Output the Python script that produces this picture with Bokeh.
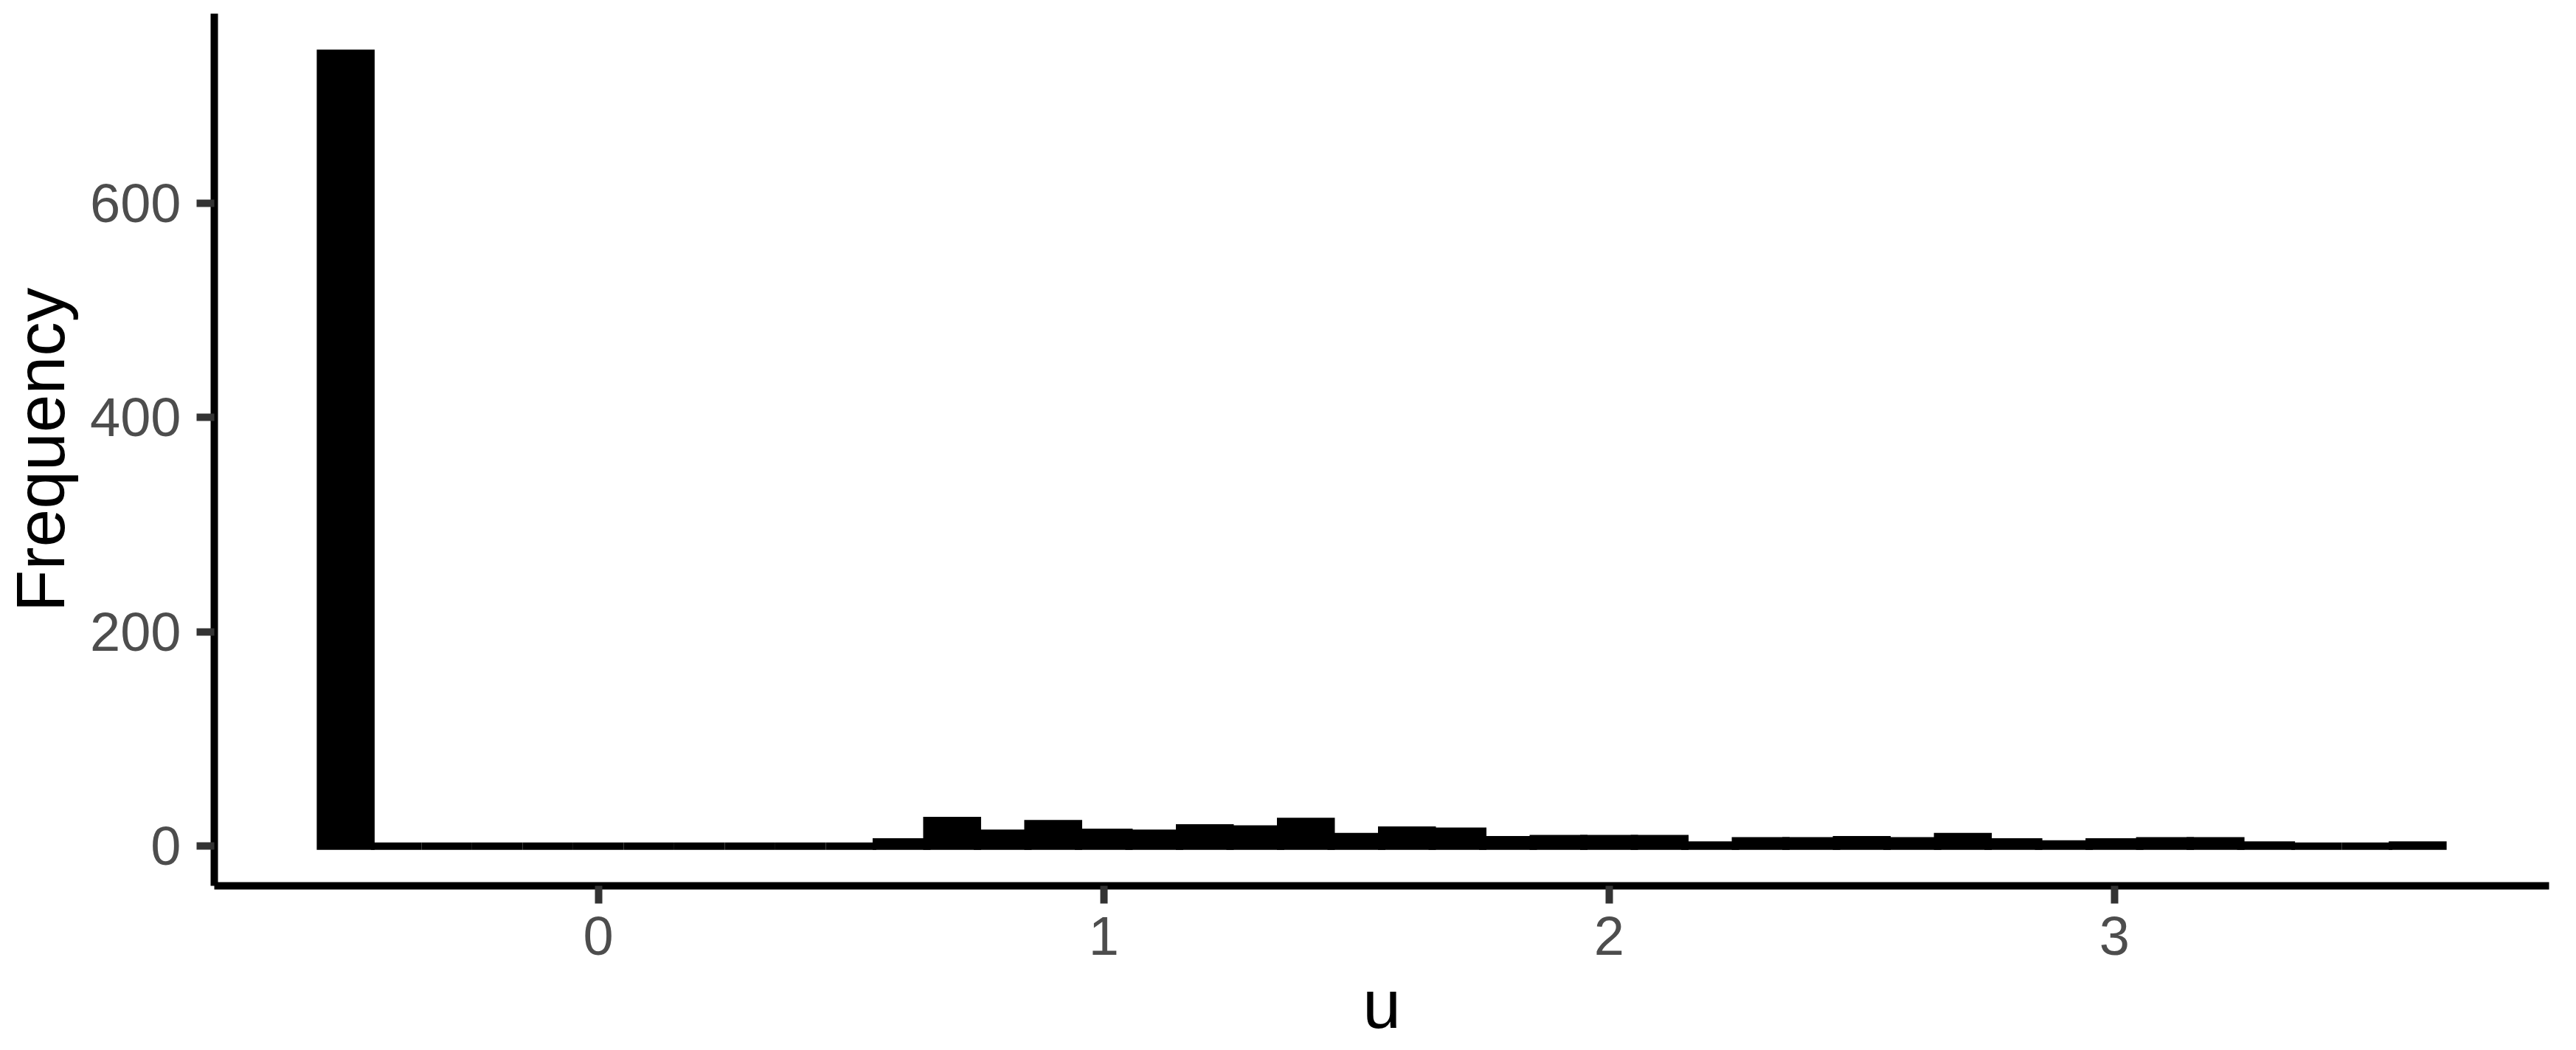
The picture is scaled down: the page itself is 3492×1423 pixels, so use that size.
from bokeh.plotting import figure
from bokeh.models import ColumnDataSource, Range1d, FixedTicker
from bokeh.embed import file_html
from bokeh.resources import INLINE

# ---- data ----
bin_centers = [-0.5, -0.4, -0.3, -0.2, -0.1, 0.0, 0.1, 0.2, 0.3, 0.4, 0.5,
               0.6, 0.7, 0.8, 0.9, 1.0, 1.1, 1.2, 1.3, 1.4, 1.5,
               1.6, 1.7, 1.8, 1.9, 2.0, 2.1, 2.2, 2.3, 2.4, 2.5,
               2.6, 2.7, 2.8, 2.9, 3.0, 3.1, 3.2, 3.3, 3.4, 3.5, 3.6]
counts = [740, 0, 0, 0, 0, 0, 0, 0, 0, 0, 0,
          4, 24, 12, 21, 13, 12, 17, 16, 23, 9,
          15, 14, 6, 7, 7, 7, 1, 5, 5, 6,
          5, 9, 4, 2, 4, 5, 5, 1, 0, 0, 1]
bin_width = 0.1
x_ticks = [0, 1, 2, 3]
y_ticks = [0, 200, 400, 600]
x_title = "u"
y_title = "Frequency"

src = ColumnDataSource(dict(
    left=[c - bin_width / 2 for c in bin_centers],
    right=[c + bin_width / 2 for c in bin_centers],
    top=counts,
    bottom=[0] * len(counts),
))

# ggplot-style 5% expansion of the data range
xmin = min(src.data["left"]); xmax = max(src.data["right"])
ymin = 0; ymax = max(counts)
xpad = 0.05 * (xmax - xmin); ypad = 0.05 * (ymax - ymin)

W, H = 3476, 1415
p = figure(width=W, height=H, output_backend="svg", toolbar_location=None,
           x_range=Range1d(xmin - xpad, xmax + xpad),
           y_range=Range1d(ymin - ypad, ymax + ypad),
           min_border_left=285, min_border_right=21,
           min_border_top=18, min_border_bottom=215)

p.quad(left="left", right="right", top="top", bottom="bottom", source=src,
       fill_color="black", line_color="black", line_width=10, line_join="miter")

p.outline_line_color = None
p.background_fill_color = "white"
p.border_fill_color = "white"
p.xgrid.visible = False
p.ygrid.visible = False

for ax, ticks in ((p.xaxis, x_ticks), (p.yaxis, y_ticks)):
    ax.ticker = FixedTicker(ticks=ticks)
    ax.minor_tick_line_color = None
    ax.axis_line_color = "black"
    ax.axis_line_width = 10
    ax.major_tick_line_color = "#333333"
    ax.major_tick_line_width = 10
    ax.major_tick_in = 0
    ax.major_tick_out = 24
    ax.major_label_text_color = "#4D4D4D"
    ax.major_label_text_font = "Liberation Sans"
    ax.major_label_text_font_size = "74px"
    ax.axis_label_text_font = "Liberation Sans"
    ax.axis_label_text_font_size = "93px"
    ax.axis_label_text_font_style = "normal"
    ax.axis_label_text_color = "black"

p.xaxis.axis_label = x_title
p.yaxis.axis_label = y_title
p.yaxis.major_label_standoff = 21
p.yaxis.axis_label_standoff = 12
p.xaxis.major_label_standoff = 18
p.xaxis.axis_label_standoff = 12

open("out.html", "w").write(file_html(p, INLINE))
